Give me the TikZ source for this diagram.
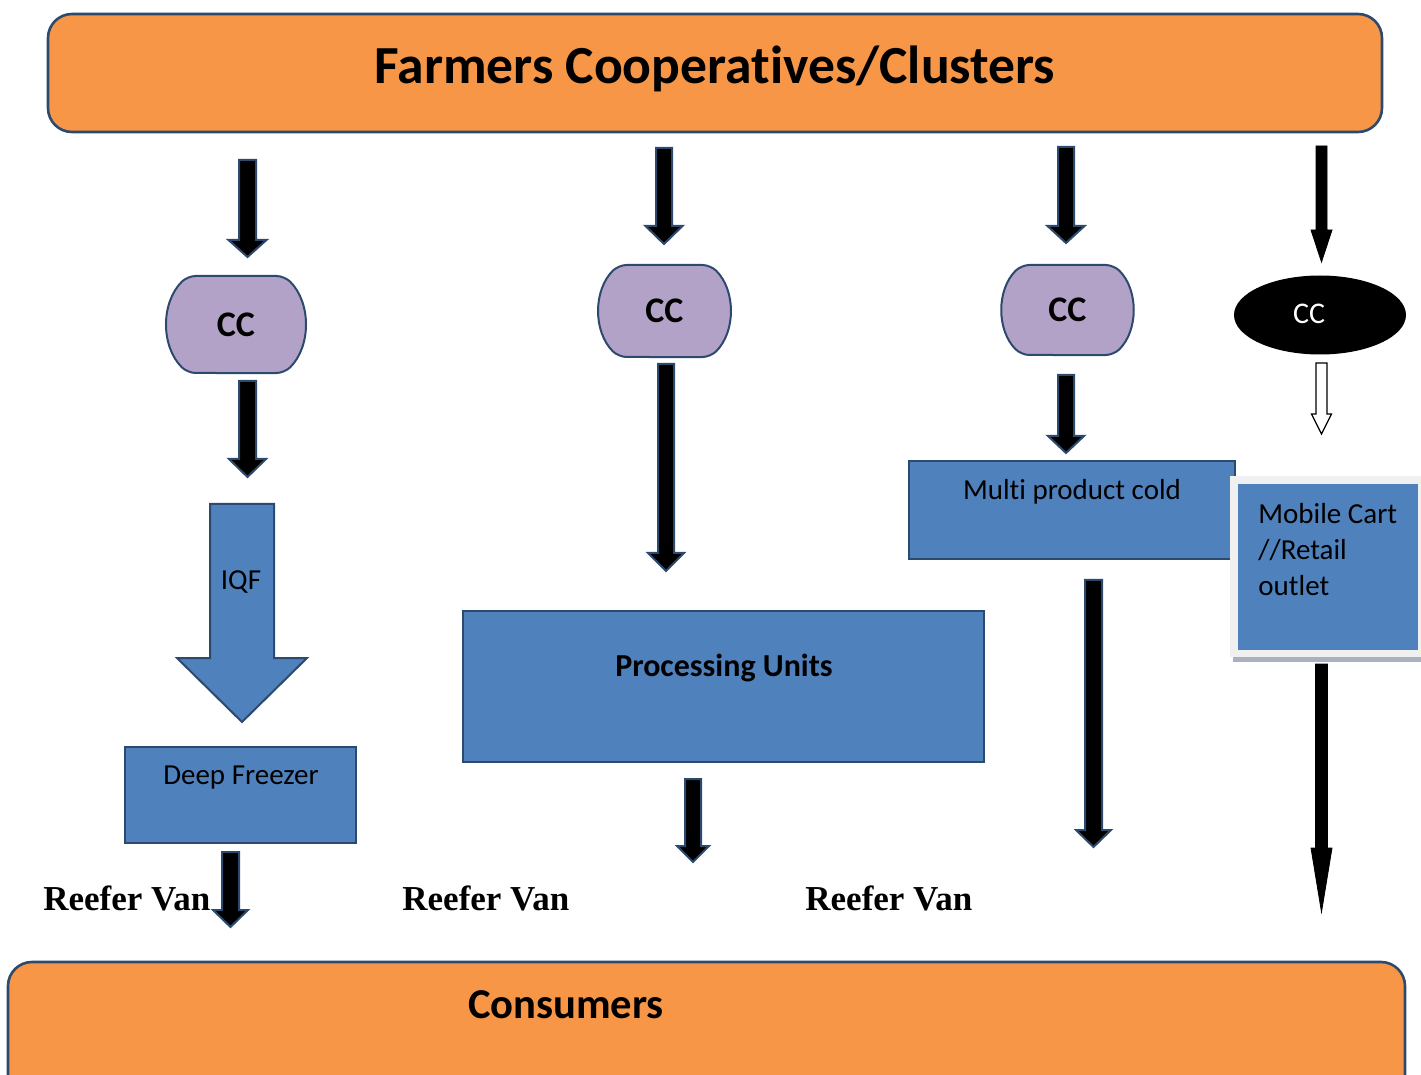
\documentclass[tikz,border=0pt]{standalone}
\usepackage{fontspec}
\setmainfont[Ligatures=NoCommon]{Carlito}
\newfontfamily\vanfont{Liberation Serif}
\usetikzlibrary{shapes.geometric,shapes.misc}

\definecolor{farmorange}{HTML}{F79646}
\definecolor{ccviolet}{HTML}{B3A2C7}
\definecolor{unitblue}{HTML}{4F81BD}
\definecolor{edgeblue}{HTML}{2C4A6E}
\definecolor{framegray}{HTML}{F0F0F0}
\definecolor{shadegray}{HTML}{A7B1C0}

% block arrow pointing down: style, x centre, y top, y of head base, y tip, shaft half width, head half width
\newcommand{\blockdown}[7]{%
  \draw[#1] (#2-#6,#3) -- (#2+#6,#3) -- (#2+#6,#4) -- (#2+#7,#4) -- (#2,#5)
    -- (#2-#7,#4) -- (#2-#6,#4) -- cycle;}

\begin{document}
\begin{tikzpicture}[x=0.5pt, y=-0.5pt,
  every node/.style={font=\fontsize{14.5}{17}\selectfont},
  bar/.style={draw=edgeblue, fill=farmorange, line width=1.3pt, rounded corners=12pt},
  unit/.style={draw=edgeblue, fill=unitblue, line width=1pt},
  ccbox/.style={draw=edgeblue, fill=ccviolet, line width=1pt, shape=rounded rectangle,
    rounded rectangle arc length=90, rounded corners=4pt, font=\fontsize{18}{21}\selectfont\bfseries},
  blk/.style={fill=black, draw=edgeblue, line width=1pt, line join=miter},
  plainblk/.style={fill=black},
  hollow/.style={fill=white, draw=black, line width=0.6pt},
  van/.style={font=\fontsize{17.5}{20}\selectfont\vanfont\bfseries, anchor=base west, inner sep=0pt}]
	\useasboundingbox (0,0) rectangle (1421,1075);
	\clip (0,0) rectangle (1421,1075);

	% top and bottom bars
	\node[bar, minimum width=667pt, minimum height=59pt] (farmers) at (715,73) {};
	\node[font=\fontsize{26.8}{30}\selectfont\bfseries] at (715,69) {Farmers Cooperatives/Clusters};
	\node[bar, minimum width=698.5pt, minimum height=75pt] (consumers) at (706.5,1037) {};
	\node[font=\fontsize{21.3}{24}\selectfont\bfseries] at (566,1005) {Consumers};

	% first column: IQF and deep freezer
	\blockdown{blk}{247.5}{160}{240}{257}{8.5}{19}
	\node[ccbox, minimum width=72pt, minimum height=48.5pt] (cc1) at (236,324.5) {CC};
	\blockdown{blk}{247.5}{381}{459}{477}{8.5}{18.5}
	\blockdown{unit}{242}{504}{658}{722}{32}{65}
	\node (iqf) at (241,582) {IQF};
	\node[unit, minimum width=115.5pt, minimum height=48pt] (freezer) at (240.5,795) {};
	\node at (241,778) {Deep Freezer};
	\blockdown{blk}{230.5}{852}{910}{927}{8.5}{17.5}
	\node[van] (van1) at (43,910) {Reefer Van};

	% second column: processing units
	\blockdown{blk}{664}{148}{226}{244}{8}{18.5}
	\node[ccbox, minimum width=71.5pt, minimum height=46pt] (cc2) at (664.5,311) {CC};
	\blockdown{blk}{666}{364}{553}{571}{8}{18}
	\node[unit, minimum width=260.5pt, minimum height=75.5pt] (processing) at (723.5,686.5) {};
	\node[font=\fontsize{16}{19}\selectfont\bfseries] at (724,668) {Processing Units};
	\blockdown{blk}{693}{779}{846}{862}{8}{16}
	\node[van] (van2) at (402,910) {Reefer Van};

	% third column: multi product cold store
	\blockdown{blk}{1066}{147}{226}{243}{8}{18.5}
	\node[ccbox, minimum width=71.5pt, minimum height=45pt] (cc3) at (1067.5,310) {CC};
	\blockdown{blk}{1066}{375}{436}{453}{8}{18}
	\node[unit, minimum width=163pt, minimum height=49pt] (multicold) at (1072,510) {};
	\node at (1072,492) {Multi product cold};
	\blockdown{blk}{1093.5}{580}{830}{847}{8.5}{17.5}
	\node[van] (van3) at (805,910) {Reefer Van};

	% fourth column: mobile cart
	\blockdown{plainblk}{1321.5}{146}{230}{262}{5.5}{10.5}
	\node[ellipse, fill=black, minimum width=86pt, minimum height=39.5pt] (cc4) at (1320,315) {};
	\node[text=white, font=\fontsize{15}{17}\selectfont] at (1309,314) {CC};
	\blockdown{hollow}{1321.5}{363}{414}{434}{5.5}{10}
	\fill[framegray] (1230,476) rectangle (1421,657);
	\fill[shadegray] (1233,657) rectangle (1421,662);
	\node[fill=unitblue, minimum width=90pt, minimum height=83pt] (mobilecart) at (1328,567) {};
	\node[anchor=north west, align=left, inner sep=0pt, font=\fontsize{14.5}{18}\selectfont] at (1258,503)
		{Mobile Cart\\//Retail\\outlet};
	\blockdown{plainblk}{1321.5}{664}{848}{912}{6}{10.5}
\end{tikzpicture}
\end{document}
